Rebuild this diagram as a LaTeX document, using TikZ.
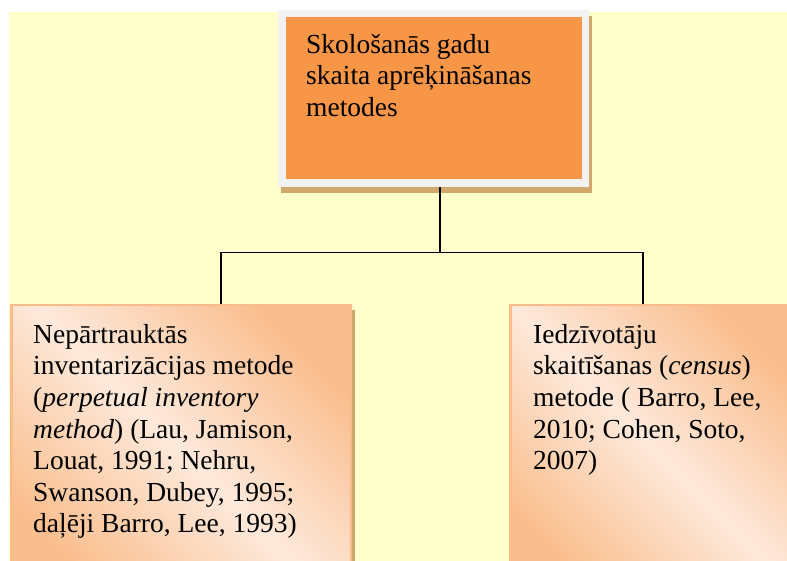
\documentclass[tikz,border=0pt]{standalone}
\usepackage{fontspec}
\setmainfont{Liberation Serif}
\usetikzlibrary{positioning,shadows}

\newlength{\du}
\setlength{\du}{1pt}

\definecolor{bgyellow}{RGB}{255,255,204}
\definecolor{framegray}{RGB}{242,242,242}
\definecolor{boxorange}{RGB}{247,150,70}
\definecolor{shadowtan}{RGB}{208,168,108}
\definecolor{cornerorange}{RGB}{249,190,142}
\definecolor{paleorange}{RGB}{253,233,219}
\definecolor{boxedge}{RGB}{248,188,138}

\tikzset{
  topbox/.style={anchor=north west, draw=framegray, line width=7.5\du,
    fill=boxorange, minimum width=303.5\du, minimum height=169.5\du,
    general shadow={draw=shadowtan, fill=shadowtan, line width=7.5\du,
      shadow xshift=3\du, shadow yshift=-6\du}},
  subbox/.style={anchor=north west, draw=boxedge, line width=2.5\du,
    top color=cornerorange, bottom color=cornerorange,
    middle color=paleorange, shading angle=-45,
    minimum height=290\du,
    general shadow={draw=shadowtan, fill=shadowtan, line width=2.5\du,
      shadow xshift=3\du, shadow yshift=-6\du}},
  boxtext/.style={anchor=north west, inner sep=0pt, align=left,
    font=\fontsize{27.5}{31.6}\selectfont},
  conn/.style={draw=black, line width=1.5\du}
}

\begin{document}
\begin{tikzpicture}[x=\du, y=-\du]
\clip (0,0) rectangle (787,561);
\fill[bgyellow] (9,12) rectangle (787,561);

% boxes
\node[topbox] (topbox) at (278,10) {};
\node[subbox, minimum width=339.5\du] (leftbox) at (10,304) {};
\node[subbox, minimum width=290\du] (rightbox) at (509,304) {};

% texts
\node[boxtext, below right=24\du and 28\du of topbox.north west] (toptext)
  {Skološanās gadu\\skaita aprēķināšanas\\metodes};
\node[boxtext, below right=20\du and 23\du of leftbox.north west] (lefttext)
  {Nepārtrauktās\\inventarizācijas metode\\(\textit{perpetual inventory}\\\textit{method}) (Lau, Jamison,\\Louat, 1991; Nehru,\\Swanson, Dubey, 1995;\\daļēji Barro, Lee, 1993)};
\node[boxtext, below right=20\du and 24\du of rightbox.north west] (righttext)
  {Iedzīvotāju\\skaitīšanas (\textit{census})\\metode ( Barro, Lee,\\2010; Cohen, Soto,\\2007)};

% connectors
\coordinate (bus) at (440,252.5);
\coordinate (busleft) at (221,252.5);
\coordinate (busright) at (643,252.5);
\draw[conn] (bus |- topbox.south) -- (bus);
\draw[conn] (busleft) -- (busright);
\draw[conn] (busleft) -- (busleft |- leftbox.north);
\draw[conn] (busright) -- (busright |- rightbox.north);
\end{tikzpicture}
\end{document}
